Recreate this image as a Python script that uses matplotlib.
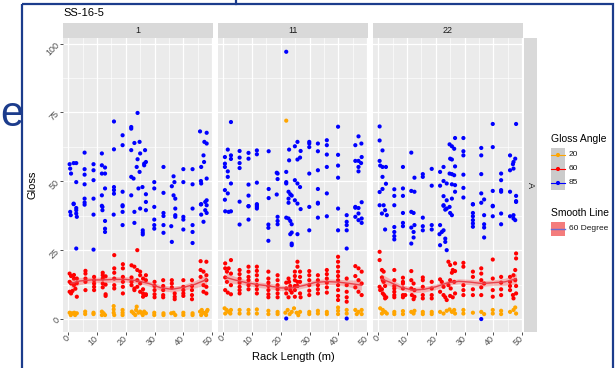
import matplotlib.pyplot as plt
import matplotlib.patches as patches
import numpy as np

plt.rcParams['font.family'] = ['Liberation Sans', 'DejaVu Sans']

# ---- data ----
facets = ['1', '11', '22']
angles = ['20', '60', '85']
angle_colors = {'20': '#FFA500', '60': '#FF0000', '85': '#0000FF'}

x_ticks = [0, 10, 20, 30, 40, 50]
y_ticks = [0, 25, 50, 75, 100]

# rack 1
r1_85 = [(0.5, 56.2), (0.7, 54.6), (1.0, 52.8), (1.9, 56.6), (2.8, 56.6), (2.8, 49.7), (1.9, 41.9), (2.8, 40.3),
         (5.7, 60.4), (5.7, 54.4), (5.7, 52.4), (5.7, 48.9), (5.7, 43.7), (5.7, 42.3),
         (8.8, 56.2), (8.8, 54.0), (8.8, 50.4), (8.8, 43.7),
         (11.7, 60.1), (11.7, 55.8), (11.7, 52.8), (12.8, 55.0), (12.8, 52.8), (12.8, 47.4), (11.7, 44.9), (11.7, 41.1),
         (15.9, 71.7), (15.9, 61.6), (15.9, 47.9), (15.9, 46.8), (15.9, 45.5),
         (18.9, 66.7), (18.9, 63.1), (18.9, 46.2), (18.9, 41.3),
         (21.9, 69.7), (21.9, 69.1), (21.9, 61.3), (21.9, 51.6), (21.9, 44.9), (22.7, 51.0), (23.0, 63.9),
         (24.1, 74.8), (24.1, 58.0), (23.8, 55.2), (24.8, 64.3), (25.0, 60.1), (24.8, 53.4), (24.4, 47.4), (25.0, 40.1),
         (25.8, 47.9), (26.7, 61.3), (26.4, 56.4), (26.4, 55.8), (27.0, 57.0), (27.0, 45.3), (27.0, 42.5),
         (29.9, 49.7), (29.9, 47.4), (29.9, 40.7),
         (33.1, 55.2), (33.1, 45.8),
         (36.0, 48.2), (36.6, 51.8), (36.9, 49.7), (36.6, 44.9), (37.2, 43.7), (37.2, 40.1),
         (40.0, 54.4), (40.0, 49.7),
         (43.2, 54.4), (43.2, 48.9),
         (45.8, 68.1), (48.1, 67.6), (46.2, 55.2), (46.1, 50.1), (46.2, 49.2), (47.0, 59.4), (47.3, 64.3), (47.2, 57.0),
         (48.1, 63.7), (48.1, 51.0), (48.1, 43.1), (47.6, 42.5), (48.1, 41.3), (46.1, 41.6),
         (0.7, 38.9), (0.9, 37.7), (1.9, 41.7), (2.8, 39.5), (2.8, 38.3), (3.0, 37.1), (2.8, 25.6),
         (5.7, 41.5), (8.8, 37.9), (8.8, 25.2),
         (11.9, 40.7), (11.9, 39.5), (12.8, 35.6), (12.8, 32.8), (12.8, 31.6),
         (15.8, 37.9), (18.9, 40.9), (18.9, 38.9), (18.9, 34.1),
         (23.0, 38.9), (23.0, 34.9), (25.9, 32.2), (25.9, 31.4), (25.9, 30.7), (27.0, 39.5),
         (29.9, 36.1), (29.9, 34.1), (29.9, 32.8),
         (33.1, 38.5), (33.1, 37.4), (33.1, 34.1), (33.1, 31.3),
         (35.8, 33.7), (36.0, 28.0), (37.2, 37.7), (37.2, 37.1),
         (40.0, 37.1), (40.0, 36.1), (40.0, 32.5),
         (43.2, 40.1), (43.2, 34.1), (43.2, 31.6), (43.2, 27.6),
         (46.2, 41.7), (46.2, 37.9), (47.0, 35.3), (47.6, 39.5), (48.1, 38.5)]
r1_60 = [(0.5, 16.5), (0.5, 13.5), (0.5, 9.9), (1, 15.6), (1, 12.9), (1, 9.3), (2, 16.0), (2, 14.7), (2, 12.3),
         (3, 14.7), (3, 13.0), (3, 8.1), (2.5, 11.0), (1.5, 10.2),
         (6, 17.5), (6, 16.5), (6, 14.7), (6, 13.5), (6, 10.5),
         (9, 15.3), (9, 14.1), (9, 12.9), (9, 11.7), (9, 10.5),
         (12, 16.8), (12, 15.9), (12, 14.7), (12, 12.9), (12, 11.5), (13, 15.5), (13, 12.5), (13, 9.0), (13, 8.4),
         (16, 23.2), (16, 18.4), (16, 16.8), (16, 14.7), (16, 12.3), (16, 11.1),
         (19, 19.9), (19, 18.4), (19, 15.3), (19, 13.5), (19, 11.7), (19, 9.3),
         (22, 19.5), (22, 15.1), (22, 13.5), (22, 12.3), (23, 19.0), (23, 11.1), (23, 10.5),
         (24, 25.0), (24, 17.8), (24, 14.1), (24, 11.7),
         (25, 17.2), (25, 15.9), (25, 12.9), (25, 9.9),
         (26, 14.7), (26, 10.8), (26, 9.3), (26, 8.1),
         (27, 15.9), (27, 14.1), (27, 9.0), (27, 8.7),
         (30, 13.5), (30, 12.0), (30, 10.5), (30, 9.0), (30, 7.9),
         (33, 14.1), (33, 12.0), (33, 10.5), (33, 8.7), (33, 7.9),
         (36, 14.1), (36, 12.9), (36, 11.5), (37, 9.3), (37, 8.1), (37, 7.2),
         (40, 14.1), (40, 11.7), (40, 10.5), (40, 9.3), (40, 8.4),
         (43, 14.1), (43, 12.0), (43, 10.5), (43, 8.7), (43, 7.2),
         (46, 21.0), (46, 17.8), (46, 15.3), (47, 17.2), (47, 12.3), (47, 9.9),
         (48, 20.8), (48, 15.9), (48, 14.1), (48, 11.7), (48, 9.3)]
r1_20 = [(0.5, 2.3), (1.3, 2.1), (2.1, 2.3), (3.0, 2.1), (0.9, 1.45), (2.4, 1.45),
         (5.9, 2.7), (5.9, 1.8), (8.8, 2.3), (8.8, 1.8),
         (11.7, 2.7), (12.3, 2.1), (12.8, 1.45), (11.7, 1.45),
         (15.8, 4.7), (15.8, 3.5), (15.8, 2.3), (16.0, 1.45),
         (18.9, 3.3), (18.9, 2.3), (18.9, 1.45),
         (22.1, 2.7), (22.7, 2.1), (23.6, 3.3), (23.8, 4.5), (24.4, 2.3), (25.0, 2.7), (25.6, 2.1),
         (26.4, 2.7), (27.0, 2.1), (25.9, 1.45), (23.3, 1.45),
         (29.9, 2.3), (29.9, 1.45), (33.1, 2.1), (33.1, 1.45),
         (35.8, 2.1), (36.6, 2.3), (37.2, 1.45), (40.0, 2.3), (40.0, 1.45),
         (43.2, 2.1), (43.2, 1.45),
         (45.8, 2.7), (46.4, 3.3), (47.0, 2.3), (47.6, 2.1), (48.1, 2.7), (48.4, 3.3), (46.2, 1.45), (47.9, 1.45)]

# rack 11
r11_85 = [(2.7, 71.5), (21.9, 97.0),
          (1.6, 61.5), (0.6, 58.8), (2.7, 59.4), (2.7, 58.1), (0.6, 56.4), (0.6, 55.2), (1.6, 53.6), (1.6, 51.6),
          (2.7, 49.2), (0.6, 46.8), (1.6, 45.6), (0.6, 43.3),
          (5.7, 61.0), (5.7, 58.6), (5.7, 56.6), (5.7, 54.8), (5.7, 42.6),
          (8.8, 60.3), (8.8, 58.2), (8.8, 48.8), (8.8, 44.8), (8.8, 41.0),
          (11.7, 61.2), (11.7, 59.8), (11.7, 49.5), (11.7, 41.7), (11.7, 40.7),
          (15.8, 60.9), (15.8, 47.2), (15.8, 43.9),
          (18.9, 52.8), (18.9, 50.8), (18.6, 45.2), (18.6, 53.1),
          (21.9, 53.4), (21.9, 49.7), (21.9, 49.2), (22.9, 61.5), (22.9, 57.6), (22.7, 46.2), (23.3, 45.3),
          (22.7, 43.7), (22.7, 42.2), (23.8, 44.8), (24.9, 62.7), (24.9, 50.4), (25.8, 64.3), (26.9, 61.0),
          (25.8, 57.9), (26.7, 58.6), (25.8, 49.2), (26.7, 47.9), (24.9, 43.1), (25.8, 41.9), (26.9, 39.9),
          (29.9, 64.3), (29.9, 63.7), (29.9, 62.4), (29.9, 52.8), (29.9, 40.7),
          (32.9, 63.7), (32.9, 60.9), (32.9, 54.0), (32.9, 47.2), (32.9, 42.2),
          (36.0, 64.9), (36.0, 63.1), (36.0, 59.7), (36.0, 55.2), (36.0, 45.6),
          (39.9, 69.8), (39.9, 59.6), (39.9, 55.7), (39.9, 51.3), (39.9, 40.1),
          (45.9, 63.1), (47.0, 66.3), (48.0, 63.7), (47.0, 57.4), (45.9, 57.4), (48.1, 58.8), (47.9, 56.6),
          (47.0, 55.2), (47.0, 53.6), (45.9, 40.7), (47.0, 40.3), (48.1, 42.4),
          (0.7, 39.1), (1.9, 38.9), (2.7, 39.1), (5.7, 34.3), (8.8, 40.9), (8.8, 36.1), (11.7, 41.3), (11.7, 40.1),
          (15.7, 34.3), (15.7, 33.1), (15.7, 28.4), (18.9, 37.1), (18.9, 35.6), (18.9, 34.4),
          (21.9, 36.8), (22.7, 36.5), (23.3, 35.6), (23.8, 34.4), (23.8, 31.4), (23.3, 30.8), (23.8, 27.4),
          (23.8, 26.8), (25.8, 30.8), (29.9, 32.2), (32.9, 41.9), (32.9, 36.8), (36.0, 37.3), (39.9, 32.2),
          (42.9, 37.7), (42.9, 35.3), (42.9, 34.1), (42.9, 32.2), (42.9, 25.6),
          (45.9, 40.4), (45.9, 37.1), (47.0, 38.3), (47.0, 35.9), (48.1, 36.5), (48.1, 34.9),
          (21.9, 0.2), (42.9, 0.2)]
r11_60 = [(0.7, 20.2), (0.7, 18.4), (1.3, 17.2), (2.7, 21.4), (1.9, 18.4), (2.7, 16.5), (0.7, 15.1), (1.3, 13.5),
          (2.7, 12.3), (0.7, 10.5), (1.6, 9.6), (2.7, 9.0),
          (5.7, 17.8), (5.7, 16.3), (5.7, 14.7), (5.7, 13.2), (5.7, 11.7), (5.7, 10.5), (5.7, 9.3),
          (8.8, 19.0), (8.8, 17.2), (8.8, 15.3), (8.8, 14.1), (8.8, 12.3), (8.8, 10.8),
          (11.7, 19.0), (11.7, 17.5), (11.7, 15.9), (11.7, 14.1), (11.7, 12.3), (11.7, 10.8), (11.7, 9.3),
          (15.7, 17.2), (15.7, 14.7), (15.7, 13.2), (15.7, 12.0), (15.7, 10.5), (15.7, 9.0), (15.7, 7.9),
          (18.9, 15.9), (18.9, 14.1), (18.9, 12.3), (18.9, 10.8), (18.9, 9.3), (18.9, 7.9),
          (21.9, 13.2), (21.9, 11.1), (21.9, 9.3), (22.7, 14.7), (22.9, 13.5), (22.7, 7.9), (23.3, 12.0),
          (23.3, 10.5), (23.8, 9.6), (24.9, 17.2), (24.9, 15.6), (24.9, 14.1), (24.9, 12.0), (24.9, 10.5),
          (24.9, 8.1), (25.8, 20.8), (25.8, 19.0), (25.8, 13.5), (25.8, 12.0), (26.7, 17.2), (26.7, 15.3),
          (26.7, 13.5), (26.7, 9.3), (26.9, 7.9),
          (29.9, 17.4), (29.9, 15.9), (29.9, 14.1), (29.9, 12.3), (29.9, 10.3), (29.9, 8.7),
          (32.9, 15.9), (32.9, 14.1), (32.9, 12.3), (32.9, 10.8), (32.9, 9.3),
          (36.0, 17.8), (36.0, 16.3), (36.0, 14.7), (36.0, 13.2), (36.0, 11.5), (36.0, 9.6),
          (39.9, 22.6), (39.9, 20.8), (39.9, 19.0), (39.9, 17.2), (39.9, 15.6), (39.9, 14.1), (39.9, 12.3),
          (39.9, 10.5), (39.9, 8.4), (39.9, 6.9),
          (42.9, 14.7), (42.9, 12.3), (42.9, 9.9), (42.9, 7.9), (42.9, 6.3),
          (45.9, 19.2), (47.0, 18.4), (48.1, 17.2), (45.9, 15.6), (47.0, 14.1), (48.1, 12.9), (45.9, 11.5),
          (47.0, 9.9), (48.1, 8.7)]
r11_20 = [(21.9, 72.0),
          (0.5, 3.9), (1.2, 3.3), (1.9, 2.6), (2.5, 2.0), (0.7, 2.0), (2.7, 3.3),
          (5.7, 3.3), (5.7, 2.0), (8.8, 3.3), (8.8, 2.0), (11.7, 3.5), (11.7, 2.0),
          (15.7, 3.0), (15.7, 1.8), (18.9, 2.6), (18.9, 1.8),
          (21.6, 2.3), (22.4, 3.3), (23.1, 1.8), (23.8, 2.6), (24.6, 3.9), (25.5, 2.3), (26.1, 1.4), (26.7, 2.6),
          (29.9, 2.6), (29.9, 1.8), (32.9, 3.0), (32.9, 2.0), (36.0, 2.6), (36.0, 1.8),
          (39.9, 4.2), (39.9, 3.0), (39.9, 1.8), (42.9, 3.3), (42.9, 2.0),
          (45.9, 3.3), (47.0, 2.6), (48.1, 3.3), (46.4, 1.8), (48.1, 1.8)]

# rack 22
r22_85 = [(0.5, 69.9), (0.5, 64.8), (1.5, 61.2), (0.5, 57.4), (0.7, 55.7), (1.5, 55.2), (2.7, 55.2), (1.5, 51.6),
          (2.7, 49.1), (0.5, 46.1), (1.5, 47.2), (0.5, 41.3), (5.6, 41.3), (5.6, 44.7),
          (39.8, 70.8), (47.9, 70.8), (26.7, 65.7), (29.6, 65.7),
          (24.8, 63.4), (25.6, 62.7), (26.4, 61.8), (29.6, 60.9), (29.6, 59.4),
          (35.8, 62.1), (35.8, 59.4), (39.8, 62.4), (45.8, 59.4), (47.6, 58.2), (47.0, 57.0), (46.8, 56.2),
          (45.8, 54.0), (47.0, 54.6),
          (25.0, 58.2), (25.6, 57.9), (26.7, 55.4), (24.8, 52.8), (25.6, 52.6), (26.4, 52.2), (29.6, 52.4),
          (35.8, 52.6), (42.7, 52.8), (42.7, 50.4), (42.7, 46.8), (42.7, 46.2),
          (22.7, 55.2), (21.5, 53.4), (22.7, 50.1), (23.8, 49.2), (25.6, 48.9), (26.7, 48.6),
          (11.5, 60.4), (8.6, 55.2), (12.6, 51.3), (15.5, 52.6), (15.5, 51.6), (18.6, 54.5), (18.6, 48.4),
          (21.5, 48.4), (5.6, 47.1), (8.6, 47.4), (8.6, 44.7), (11.5, 46.5), (12.6, 46.2),
          (22.7, 44.6), (23.8, 43.1), (25.6, 43.7), (26.7, 46.2), (29.6, 47.6), (29.6, 44.1), (35.8, 45.6),
          (35.8, 42.2), (36.8, 43.4), (39.8, 46.5), (39.8, 41.1), (45.8, 46.2), (47.9, 44.7), (47.9, 42.8),
          (32.9, 41.7), (22.7, 41.1), (24.8, 40.7),
          (1.9, 41.3), (2.4, 39.5), (1.3, 38.3), (3.0, 37.7), (2.4, 32.5),
          (5.6, 33.4), (5.6, 31.6), (5.6, 30.1), (5.6, 28.9),
          (8.6, 38.5), (8.6, 34.9), (8.6, 33.7),
          (11.5, 38.9), (12.3, 38.5), (11.5, 33.2), (12.3, 31.6), (12.6, 34.1), (12.3, 29.6), (11.5, 27.4),
          (15.5, 36.8), (15.5, 33.7), (15.5, 32.2), (18.6, 34.1), (18.6, 32.5),
          (21.5, 34.1), (22.1, 31.6), (22.7, 32.2), (21.3, 30.8), (21.5, 26.8), (23.3, 29.2), (23.3, 28.0),
          (23.8, 25.0), (22.7, 41.3), (23.3, 39.7), (25.0, 38.5), (25.6, 37.7), (23.8, 40.1),
          (32.9, 41.6), (32.9, 38.5), (32.9, 37.3), (32.9, 35.9), (32.9, 34.7), (32.9, 33.5),
          (36.8, 37.7), (36.8, 34.4), (36.8, 33.2), (36.8, 29.6), (39.8, 40.9), (39.8, 37.3),
          (42.7, 38.3), (42.7, 34.4), (45.8, 37.3), (47.0, 36.5), (47.6, 35.9), (47.0, 37.7), (47.9, 42.5),
          (35.8, 0.0)]
r22_60 = [(0.5, 24.4), (0.5, 21.4), (1.3, 17.8), (1.6, 14.1), (0.5, 11.7), (0.7, 10.5), (1.6, 9.3), (2.4, 7.5),
          (1.9, 17.2), (1.3, 15.1), (1.9, 13.5), (2.4, 12.0), (1.3, 10.8), (2.1, 8.7), (2.8, 7.9),
          (5.6, 17.8), (5.6, 14.1), (5.6, 12.0), (5.6, 11.1), (5.6, 9.9), (5.6, 8.7), (5.6, 7.9),
          (8.6, 15.0), (8.6, 13.5), (8.6, 12.9), (8.6, 11.1), (8.6, 8.7), (8.6, 7.9), (9.4, 8.7),
          (11.5, 17.4), (11.5, 14.1), (12.3, 12.9), (11.5, 11.1), (12.6, 10.5), (11.7, 8.7), (12.6, 8.1), (12.3, 7.2),
          (15.5, 15.1), (15.5, 14.1), (15.5, 11.7), (15.5, 8.7), (15.5, 7.5),
          (18.6, 13.5), (18.6, 11.1), (18.6, 8.7), (18.6, 7.5),
          (21.5, 14.4), (22.1, 13.5), (22.7, 11.7), (21.5, 9.9), (22.7, 8.7), (23.3, 7.9), (23.8, 6.9),
          (24.4, 20.8), (25.0, 19.6), (25.9, 17.8), (25.6, 16.8), (26.7, 20.2), (26.7, 17.4), (25.0, 14.1),
          (26.4, 13.5), (24.4, 12.3), (25.2, 11.1), (26.7, 9.3), (25.0, 8.4), (25.9, 7.9),
          (29.6, 20.4), (29.6, 19.0), (29.6, 12.3), (29.6, 10.5), (29.6, 8.7),
          (32.9, 17.2), (32.9, 15.3), (32.9, 10.8), (32.9, 8.7),
          (35.8, 18.4), (35.8, 16.5), (35.8, 14.1), (35.8, 11.5), (35.8, 8.7), (36.8, 12.9),
          (39.8, 21.6), (39.8, 14.7), (39.8, 10.5), (39.8, 8.1),
          (42.7, 15.3), (42.7, 13.2), (42.7, 10.8), (42.7, 8.7),
          (45.8, 15.3), (45.8, 13.5), (45.8, 12.0), (45.8, 10.5), (46.8, 8.7), (47.0, 15.9), (47.6, 17.8),
          (47.9, 22.0), (47.9, 23.8), (47.6, 14.1), (47.9, 12.0), (47.9, 9.3), (47.0, 7.5)]
r22_20 = [(0.7, 3.9), (1.6, 3.3), (2.4, 2.6), (3.0, 2.0), (1.3, 2.0),
          (5.6, 2.6), (5.6, 1.8), (8.6, 2.9), (8.6, 1.8),
          (11.5, 2.6), (12.3, 2.0), (12.6, 3.0), (15.5, 2.6), (15.5, 1.8), (18.6, 2.6), (18.6, 1.8),
          (21.5, 2.6), (22.7, 2.0), (23.8, 3.0), (24.8, 3.5), (25.6, 2.6), (26.4, 3.3), (26.7, 2.0),
          (29.6, 3.3), (29.6, 2.0), (32.9, 2.3), (35.8, 2.6), (36.8, 1.8),
          (39.8, 3.3), (39.8, 2.0), (42.7, 3.0), (42.7, 1.8),
          (45.8, 2.6), (47.0, 3.3), (47.6, 4.2), (47.9, 2.0)]

# loess fit of the 60 degree readings (line and half-width of the band)
smooth_x = [1, 4, 8, 12, 16, 20, 24, 28, 32, 36, 40, 44, 48]
r1_smooth = [13.0, 13.8, 14.2, 14.2, 14.4, 14.4, 13.9, 12.9, 11.4, 10.8, 11.5, 12.6, 14.3]
r11_smooth = [15.1, 14.2, 13.2, 12.5, 12.0, 11.3, 11.3, 12.2, 13.3, 13.6, 13.4, 12.9, 12.3]
r22_smooth = [14.6, 13.4, 11.5, 10.5, 10.8, 11.7, 13.1, 13.7, 13.4, 12.9, 13.2, 13.5, 14.6]
smooth_se = [1.8, 1.3, 1.0, 1.0, 1.0, 1.0, 0.9, 0.9, 1.0, 1.0, 1.0, 1.3, 1.8]

panel_points = {
    '1': {'85': r1_85, '60': r1_60, '20': r1_20},
    '11': {'85': r11_85, '60': r11_60, '20': r11_20},
    '22': {'85': r22_85, '60': r22_60, '20': r22_20},
}
panel_smooth = {'1': r1_smooth, '11': r11_smooth, '22': r22_smooth}

# ---- layout (pixels of a 615 x 368 picture) ----
W, H = 615, 368
fig = plt.figure(figsize=(W / 100, H / 100), dpi=100)


def px_box(x0, y0, x1, y1):
    return [x0 / W, 1 - y1 / H, (x1 - x0) / W, (y1 - y0) / H]


panel_left = [63, 218, 373]
panel_w = 150
top, bottom = 38, 332

for i, facet in enumerate(facets):
    l = panel_left[i]
    ax = fig.add_axes(px_box(l, top, l + panel_w, bottom))
    ax.set_facecolor('#EBEBEB')
    for s in ax.spines.values():
        s.set_visible(False)
    ax.set_xlim(-1.8, 50.3)
    ax.set_ylim(-4.7, 102)
    ax.set_xticks(x_ticks)
    ax.set_xticks([5, 15, 25, 35, 45], minor=True)
    ax.set_yticks(y_ticks)
    ax.set_yticks([12.5, 37.5, 62.5, 87.5], minor=True)
    ax.grid(which='major', color='white', lw=0.9)
    ax.grid(which='minor', color='white', lw=0.45)
    ax.set_axisbelow(True)
    ax.tick_params(which='minor', length=0)
    ax.tick_params(which='major', length=2.5, width=0.6, color='#333333',
                   labelsize=6.5, labelcolor='#4D4D4D', pad=1)
    ax.set_xticklabels([str(t) for t in x_ticks], rotation=45, ha='right',
                       va='center', rotation_mode='anchor')
    if i == 0:
        ax.set_yticklabels([str(t) for t in y_ticks], rotation=45, ha='right',
                           va='center', rotation_mode='anchor')
    else:
        ax.tick_params(axis='y', length=0, labelleft=False)

    for ang in ['85', '60', '20']:
        pts = panel_points[facet][ang]
        xs = [p[0] for p in pts]
        ys = [p[1] for p in pts]
        ax.scatter(xs, ys, s=9, c=angle_colors[ang], edgecolors='none', zorder=3)

    sx = np.array(smooth_x)
    sy = np.array(panel_smooth[facet])
    se = np.array(smooth_se)
    ax.fill_between(sx, sy - se, sy + se, color='#FF3030', alpha=0.3, lw=0, zorder=4)
    ax.plot(sx, sy, color='#E8404A', lw=1.0, zorder=5)

    # strip on top
    sax = fig.add_axes(px_box(l, 23, l + panel_w, top))
    sax.set_facecolor('#D9D9D9')
    sax.set_xticks([])
    sax.set_yticks([])
    for s in sax.spines.values():
        s.set_visible(False)
    sax.text(0.5, 0.5, facet, transform=sax.transAxes, ha='center', va='center',
             fontsize=6.5, color='#1A1A1A')

# strip on the right
rax = fig.add_axes(px_box(524, top, 537, bottom))
rax.set_facecolor('#D9D9D9')
rax.set_xticks([])
rax.set_yticks([])
for s in rax.spines.values():
    s.set_visible(False)
rax.text(0.5, 0.5, 'A', transform=rax.transAxes, ha='center', va='center',
         fontsize=6.5, color='#1A1A1A', rotation=-90)

# overlay in pixel units for titles, legend and slide frame
oax = fig.add_axes([0, 0, 1, 1], zorder=10)
oax.set_xlim(0, W)
oax.set_ylim(H, 0)
oax.axis('off')
oax.patch.set_alpha(0)

frame_blue = '#1C3C8C'
oax.add_patch(patches.Rectangle((22, 4), 591, 400, fill=False, ec=frame_blue, lw=1.6))
oax.plot([236, 236], [0, 4], color=frame_blue, lw=1.6)
oax.text(0.5, 126, 'e', fontsize=30, color=frame_blue, ha='left', va='baseline')

oax.text(63, 13, 'SS-16-5', fontsize=8, va='center', color='black')
oax.text(32, 185, 'Gloss', fontsize=8, rotation=90, ha='center', va='center')
oax.text(293, 357, 'Rack Length (m)', fontsize=8, ha='center', va='center')

# legend: Gloss Angle
oax.text(551, 139, 'Gloss Angle', fontsize=7.5, va='center')
for k, ang in enumerate(angles):
    y0 = 148 + 14 * k
    oax.add_patch(patches.Rectangle((551, y0), 14, 14, fc='#CBCBCB', ec='none'))
    oax.plot([551, 565], [y0 + 7, y0 + 7], color=angle_colors[ang], lw=0.8)
    oax.scatter([558], [y0 + 7], s=9, c=angle_colors[ang], edgecolors='none', zorder=3)
    oax.text(569, y0 + 7, ang, fontsize=6, va='center', color='#1A1A1A')

# legend: Smooth Line
oax.text(551, 213, 'Smooth Line', fontsize=7.5, va='center')
oax.add_patch(patches.Rectangle((551, 222), 14, 14, fc='#F47C7C', ec='none'))
oax.plot([551, 565], [229, 229], color='#6B6BD0', lw=1.0)
oax.text(569, 229, '60 Degree', fontsize=6, va='center', color='#1A1A1A')

plt.savefig('out.png', dpi=100)
